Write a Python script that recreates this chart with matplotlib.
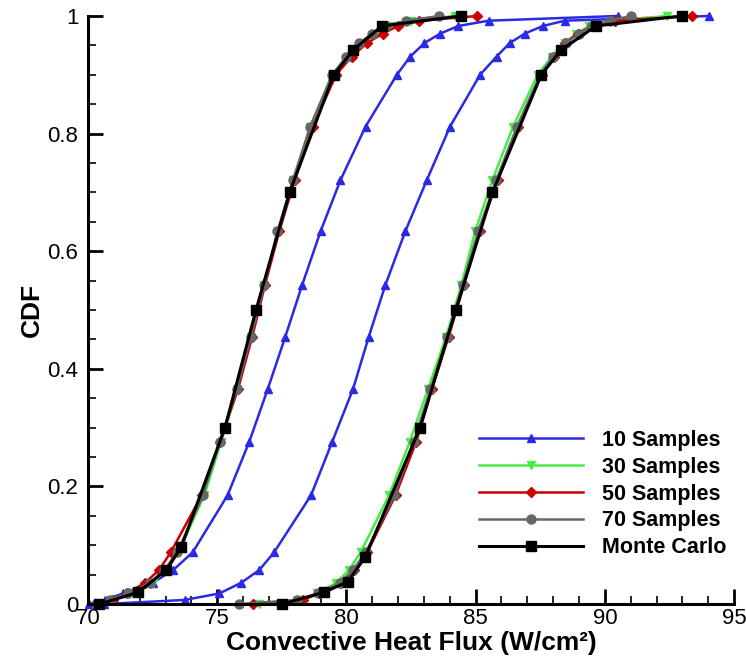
import matplotlib
matplotlib.use('Agg')
import matplotlib.pyplot as plt
from matplotlib.ticker import MultipleLocator

plt.rcParams['font.family'] = ['Liberation Sans', 'DejaVu Sans']

# --- Data ---
# CDF levels shared by the sampled curves (10/30/50/70 samples)
cdf_levels = [0.0, 0.007, 0.018, 0.036, 0.058, 0.088, 0.185, 0.276, 0.365, 0.454, 0.543,
              0.634, 0.721, 0.812, 0.9, 0.931, 0.954, 0.970, 0.983, 0.992, 1.0]

# lower bound curves (left group)
s10_low = [70.05, 70.65, 71.35, 72.5, 73.3, 74.05, 75.40, 76.24, 76.95, 77.63, 78.29,
           79.0, 79.77, 80.74, 81.95, 82.47, 83.02, 83.62, 84.33, 85.5, 90.49]
s30_low = [70.35, 70.9, 71.6, 72.5, 73.0, 73.5, 74.5, 75.15, 75.78, 76.3, 76.8,
           77.35, 77.92, 78.6, 79.45, 80.05, 80.6, 81.1, 81.7, 82.5, 84.2]
s50_low = [70.45, 70.95, 71.5, 72.2, 72.75, 73.2, 74.4, 75.1, 75.8, 76.35, 76.85,
           77.4, 78.0, 78.7, 79.6, 80.2, 80.8, 81.4, 82.0, 82.8, 85.07]
s70_low = [70.3, 70.85, 71.55, 72.4, 72.95, 73.45, 74.45, 75.1, 75.75, 76.3, 76.82,
           77.33, 77.94, 78.6, 79.45, 80.0, 80.5, 81.0, 81.55, 82.3, 83.6]

# upper bound curves (right group)
s10_up = [70.6, 73.74, 75.08, 75.92, 76.63, 77.20, 78.63, 79.45, 80.25, 80.86, 81.51,
          82.28, 83.11, 84.01, 85.17, 85.81, 86.32, 86.90, 87.60, 88.45, 94.03]
s30_up = [76.6, 78.2, 78.85, 79.6, 80.1, 80.55, 81.65, 82.45, 83.15, 83.85, 84.45,
          84.98, 85.65, 86.45, 87.4, 87.95, 88.45, 88.9, 89.4, 90.3, 92.4]
s50_up = [76.39, 78.3, 78.95, 79.8, 80.3, 80.8, 81.9, 82.7, 83.3, 83.95, 84.55,
          85.15, 85.85, 86.65, 87.55, 88.05, 88.45, 88.95, 89.5, 90.4, 93.38]
s70_up = [75.86, 78.1, 78.9, 79.75, 80.25, 80.75, 81.85, 82.6, 83.25, 83.9, 84.5,
          85.1, 85.8, 86.6, 87.5, 88.0, 88.5, 89.0, 89.5, 90.2, 91.0]

# Monte Carlo reference
mc_low_cdf = [0.0, 0.02, 0.058, 0.097, 0.3, 0.5, 0.7, 0.9, 0.942, 0.983, 1.0]
mc_low_x = [70.44, 71.94, 73.03, 73.61, 75.30, 76.50, 77.80, 79.51, 80.26, 81.37, 84.42]
mc_up_cdf = [0.0, 0.02, 0.038, 0.08, 0.3, 0.5, 0.7, 0.9, 0.942, 0.983, 1.0]
mc_up_x = [77.52, 79.13, 80.05, 80.73, 82.85, 84.23, 85.65, 87.54, 88.3, 89.66, 92.97]

labels = ['10 Samples', '30 Samples', '50 Samples', '70 Samples', 'Monte Carlo']

# --- Figure ---
fig = plt.figure(figsize=(7.46, 6.66), dpi=100)
ax = fig.add_axes([0.118, 0.093, 0.866, 0.883])

styles = [
    dict(color='#2a2ae6', marker='^', ms=6),
    dict(color='#44ee44', marker='v', ms=6),
    dict(color='#cc0000', marker='D', ms=5),
    dict(color='#666666', marker='o', ms=6.5),
]
low_sets = [s10_low, s30_low, s50_low, s70_low]
up_sets = [s10_up, s30_up, s50_up, s70_up]

for st, xl, xu, lab in zip(styles, low_sets, up_sets, labels):
    ax.plot(xl, cdf_levels, lw=1.8, clip_on=False, label=lab, **st)
    ax.plot(xu, cdf_levels, lw=1.8, clip_on=False, **st)

ax.plot(mc_low_x, mc_low_cdf, color='black', marker='s', ms=7, lw=2.2,
        clip_on=False, label=labels[4])
ax.plot(mc_up_x, mc_up_cdf, color='black', marker='s', ms=7, lw=2.2, clip_on=False)

# --- Axes styling ---
ax.set_xlim(70, 95)
ax.set_ylim(0, 1)
ax.set_xticks([70, 75, 80, 85, 90, 95])
ax.set_xticklabels(['70', '75', '80', '85', '90', '95'])
ax.set_yticks([0, 0.2, 0.4, 0.6, 0.8, 1.0])
ax.set_yticklabels(['0', '0.2', '0.4', '0.6', '0.8', '1'])
ax.xaxis.set_minor_locator(MultipleLocator(1))
ax.yaxis.set_minor_locator(MultipleLocator(0.05))
ax.tick_params(which='major', direction='in', length=11, width=2, labelsize=16)
ax.tick_params(axis='x', which='major', pad=3)
ax.tick_params(axis='y', which='major', pad=7)
ax.tick_params(which='minor', direction='in', length=6, width=1.2)
ax.tick_params(top=False, right=False)
for side in ['top', 'right']:
    ax.spines[side].set_visible(False)
for side in ['left', 'bottom']:
    ax.spines[side].set_linewidth(2.2)

ax.set_xlabel('Convective Heat Flux (W/cm²)', fontsize=19, fontweight='bold')
ax.set_ylabel('CDF', fontsize=19, fontweight='bold')
ax.xaxis.set_label_coords(0.5, -0.045)
ax.yaxis.set_label_coords(-0.068, 0.5)

ax.legend(loc='lower right', bbox_to_anchor=(1.018, 0.045), frameon=False,
          prop=dict(size=15.5, weight='bold'), handlelength=4.8, numpoints=1,
          labelspacing=0.27, handletextpad=0.9)

fig.savefig('out.png', dpi=100)
